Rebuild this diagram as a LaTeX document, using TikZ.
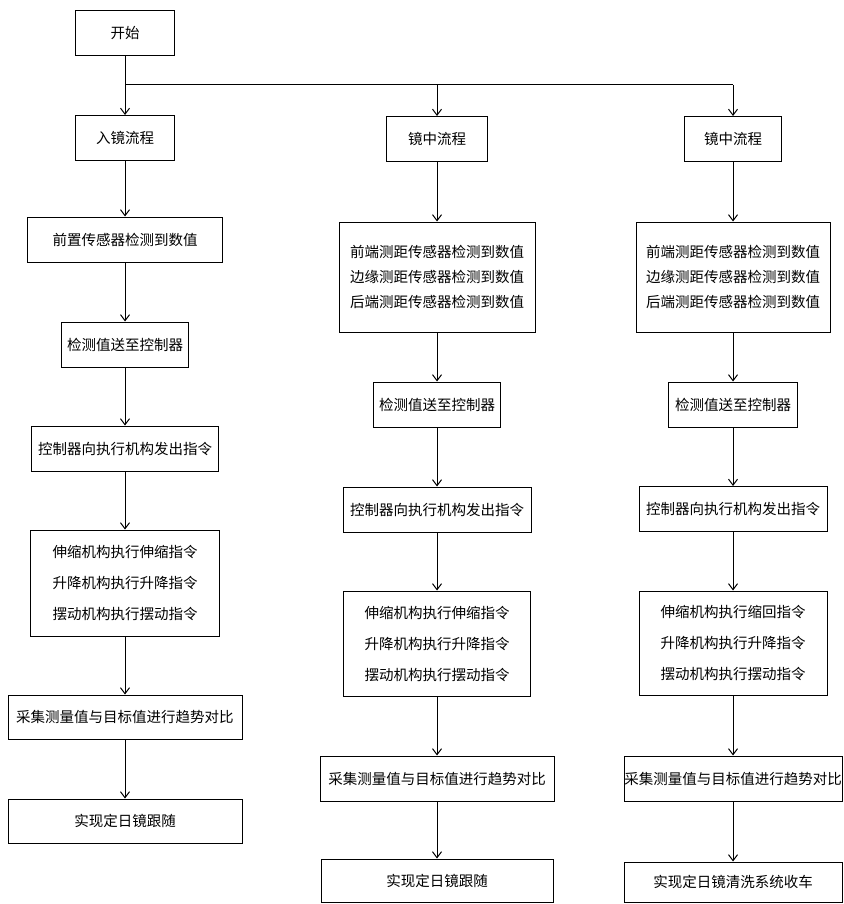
\documentclass[tikz,border=0pt]{standalone}
\usepackage{fontspec}
\newfontfamily\cjk{Noto Sans CJK SC}
\usetikzlibrary{arrows.meta}
\tikzset{
  stepbox/.style={draw,rectangle,line width=1pt,inner sep=0pt,align=center,
    font=\cjk\fontsize{14.5}{25}\selectfont,minimum height=45pt},
  actbox/.style={stepbox,font=\cjk\fontsize{14.5}{31}\selectfont}
}
\begin{document}
\begin{tikzpicture}[>={Straight Barb[length=6pt,width=9pt]},line width=1pt,x=1pt,y=-1pt]
\useasboundingbox (0,0) rectangle (843,904);

% left column
\node[stepbox,minimum width=99pt] (start) at (125,33.5) {开始};
\node[stepbox,minimum width=99pt] (inflow) at (125,138) {入镜流程};
\node[stepbox,minimum width=195pt] (lsense) at (125,239.5) {前置传感器检测到数值};
\node[stepbox,minimum width=127pt] (lsend) at (125,344.5) {检测值送至控制器};
\node[stepbox,minimum width=187pt] (lctrl) at (125,448.5) {控制器向执行机构发出指令};
\node[actbox,minimum width=189pt,minimum height=106pt] (lact) at (125,583) {伸缩机构执行伸缩指令\\升降机构执行升降指令\\摆动机构执行摆动指令};
\node[stepbox,minimum width=234pt,minimum height=44pt] (lcmp) at (125,717) {采集测量值与目标值进行趋势对比};
\node[stepbox,minimum width=234pt,minimum height=44pt] (ldone) at (125,821) {实现定日镜跟随};

% middle column
\node[stepbox,minimum width=101pt] (mflow) at (437,139) {镜中流程};
\node[stepbox,minimum width=196pt,minimum height=110pt] (msense) at (437,277) {前端测距传感器检测到数值\\边缘测距传感器检测到数值\\后端测距传感器检测到数值};
\node[stepbox,minimum width=127pt] (msend) at (437,404.5) {检测值送至控制器};
\node[stepbox,minimum width=188pt] (mctrl) at (437,509.5) {控制器向执行机构发出指令};
\node[actbox,minimum width=187pt,minimum height=105pt] (mact) at (437,643.5) {伸缩机构执行伸缩指令\\升降机构执行升降指令\\摆动机构执行摆动指令};
\node[stepbox,minimum width=234pt] (mcmp) at (437,778.5) {采集测量值与目标值进行趋势对比};
\node[stepbox,minimum width=232pt,minimum height=43pt] (mdone) at (437,880.5) {实现定日镜跟随};

% right column
\node[stepbox,minimum width=97pt] (rflow) at (733,139) {镜中流程};
\node[stepbox,minimum width=194pt,minimum height=110pt] (rsense) at (733,277) {前端测距传感器检测到数值\\边缘测距传感器检测到数值\\后端测距传感器检测到数值};
\node[stepbox,minimum width=129pt] (rsend) at (733,404.5) {检测值送至控制器};
\node[stepbox,minimum width=188pt] (rctrl) at (733,509) {控制器向执行机构发出指令};
\node[actbox,minimum width=188pt,minimum height=104pt] (ract) at (733,643) {伸缩机构执行缩回指令\\升降机构执行升降指令\\摆动机构执行摆动指令};
\node[stepbox,minimum width=218pt] (rcmp) at (733,778.5) {采集测量值与目标值进行趋势对比};
\node[stepbox,minimum width=218pt,minimum height=40pt] (rdone) at (733,882) {实现定日镜清洗系统收车};

% branch
\coordinate (split) at (125,85);
\coordinate (splitr) at (733,85);
\draw (split) -- (splitr);
\draw[->] (split -| mflow) -- (mflow);
\draw[->] (splitr) -- (rflow);

\draw[->] (start) -- (inflow);
\draw[->] (inflow) -- (lsense);
\draw[->] (lsense) -- (lsend);
\draw[->] (lsend) -- (lctrl);
\draw[->] (lctrl) -- (lact);
\draw[->] (lact) -- (lcmp);
\draw[->] (lcmp) -- (ldone);

\draw[->] (mflow) -- (msense);
\draw[->] (msense) -- (msend);
\draw[->] (msend) -- (mctrl);
\draw[->] (mctrl) -- (mact);
\draw[->] (mact) -- (mcmp);
\draw[->] (mcmp) -- (mdone);

\draw[->] (rflow) -- (rsense);
\draw[->] (rsense) -- (rsend);
\draw[->] (rsend) -- (rctrl);
\draw[->] (rctrl) -- (ract);
\draw[->] (ract) -- (rcmp);
\draw[->] (rcmp) -- (rdone);
\end{tikzpicture}
\end{document}
